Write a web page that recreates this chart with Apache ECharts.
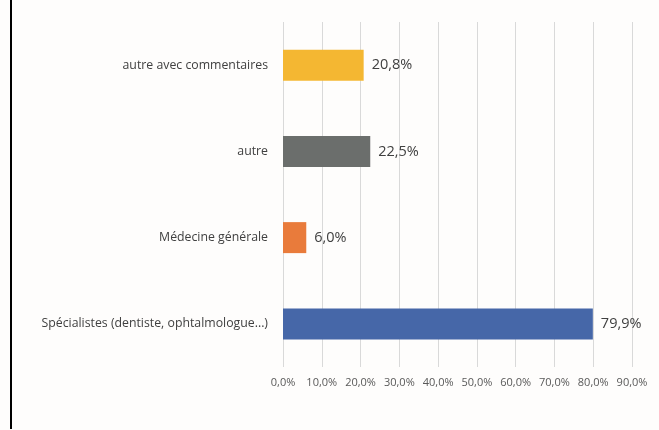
<!DOCTYPE html>
<html>
<head>
<meta charset="utf-8">
<script src="https://cdn.jsdelivr.net/npm/echarts@6/dist/echarts.min.js"></script>
<style>
  html, body { margin: 0; padding: 0; background: #fefdfc; }
  #chart { width: 659px; height: 430px; }
</style>
</head>
<body>
<div id="chart"></div>
<script>
// Categories, bottom to top
const categories = [
  'Spécialistes (dentiste, ophtalmologue...)',
  'Médecine générale',
  'autre',
  'autre avec commentaires'
];
// Share of answers, in percent
const values = [79.9, 6.0, 22.5, 20.8];
const barColors = ['#4667a8', '#e97b3b', '#6b6e6c', '#f4b732'];
// Value axis ticks (percent)
const tickMin = 0;
const tickMax = 90;
const tickStep = 10;

const fmt = v => v.toFixed(1).replace('.', ',') + '%';

const chart = echarts.init(document.getElementById('chart'));
chart.setOption({
  backgroundColor: '#fefdfc',
  animation: false,
  grid: { left: 283, right: 27, top: 22, bottom: 63, containLabel: false },
  xAxis: {
    type: 'value',
    min: tickMin,
    max: tickMax,
    interval: tickStep,
    axisLine: { show: false },
    axisTick: { show: false },
    splitLine: { show: true, lineStyle: { color: '#d9d9d9', width: 1 } },
    axisLabel: {
      formatter: fmt,
      color: '#595959',
      fontFamily: 'Open Sans',
      fontSize: 11,
      margin: 10
    }
  },
  yAxis: {
    type: 'category',
    data: categories,
    axisLine: { show: false },
    axisTick: { show: false },
    axisLabel: {
      color: '#404040',
      fontFamily: 'Open Sans',
      fontSize: 12.3,
      margin: 15
    }
  },
  series: [{
    type: 'bar',
    data: values.map((v, i) => ({ value: v, itemStyle: { color: barColors[i] } })),
    barWidth: 31,
    label: {
      show: true,
      position: 'right',
      distance: 8,
      formatter: p => fmt(p.value),
      color: '#404040',
      fontFamily: 'Open Sans',
      fontSize: 14.5
    }
  }],
  graphic: [{
    type: 'rect',
    shape: { x: 10, y: 0, width: 2, height: 429 },
    style: { fill: '#000000' }
  }]
});
</script>
</body>
</html>
